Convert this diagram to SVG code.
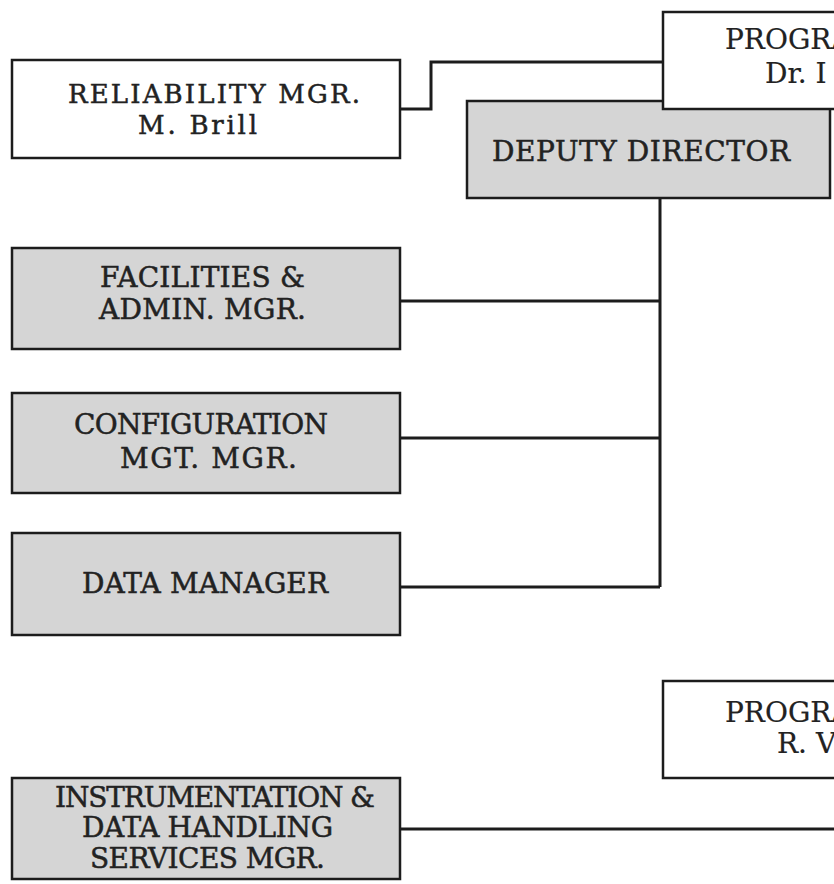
<svg xmlns="http://www.w3.org/2000/svg" width="834" height="884" viewBox="0 0 834 884">
<style>
  .white { fill: #ffffff; stroke: #1c1c1c; stroke-width: 2.5; }
  .gray { fill: #d5d5d5; stroke: #1c1c1c; stroke-width: 2.5; }
  .conn { fill: none; stroke: #1c1c1c; stroke-width: 3; stroke-linejoin: miter; }
  .lbl { font-family: "DejaVu Serif", "Liberation Serif", serif; font-size: 28px; fill: #222222; stroke: #222222; stroke-width: 0.5; }
  .sm { font-size: 26px; }
  .big { font-size: 28px; stroke-width: 0.2; }
</style>
<rect x="0" y="0" width="834" height="884" fill="#ffffff"/>

<g id="connectors">
  <path class="conn" d="M400,109 H431 V62 H663"/>
  <path class="conn" d="M660,198 V587"/>
  <path class="conn" d="M400,301 H660"/>
  <path class="conn" d="M400,438 H660"/>
  <path class="conn" d="M400,587 H660"/>
  <path class="conn" d="M400,829 H836"/>
</g>

<g id="reliability-mgr">
  <rect class="white" x="12" y="60" width="388" height="98"/>
  <text class="lbl sm" x="68" y="103" textLength="292" lengthAdjust="spacing">RELIABILITY MGR.</text>
  <text class="lbl sm" x="138" y="134" textLength="119" lengthAdjust="spacing">M. Brill</text>
</g>

<g id="deputy-director">
  <rect class="gray" x="467" y="101" width="363" height="97"/>
  <text class="lbl" x="492" y="161" textLength="298" lengthAdjust="spacing">DEPUTY DIRECTOR</text>
</g>

<g id="program-top">
  <rect class="white" x="663" y="12" width="200" height="97"/>
  <text class="lbl big" x="725" y="49">PROGRA</text>
  <text class="lbl big" x="765" y="83">Dr. I</text>
</g>

<g id="facilities-admin-mgr">
  <rect class="gray" x="12" y="248" width="388" height="101"/>
  <text class="lbl" x="100" y="287" textLength="205" lengthAdjust="spacing">FACILITIES &amp;</text>
  <text class="lbl" x="99" y="319" textLength="207" lengthAdjust="spacing">ADMIN. MGR.</text>
</g>

<g id="configuration-mgt-mgr">
  <rect class="gray" x="12" y="393" width="388" height="100"/>
  <text class="lbl" x="74" y="434" textLength="254" lengthAdjust="spacing">CONFIGURATION</text>
  <text class="lbl" x="120" y="468" textLength="177" lengthAdjust="spacing">MGT. MGR.</text>
</g>

<g id="data-manager">
  <rect class="gray" x="12" y="533" width="388" height="102"/>
  <text class="lbl" x="82" y="593" textLength="246" lengthAdjust="spacing">DATA MANAGER</text>
</g>

<g id="program-bottom">
  <rect class="white" x="663" y="681" width="200" height="97"/>
  <text class="lbl big" x="725" y="722">PROGRA</text>
  <text class="lbl big" x="777" y="753">R. V</text>
</g>

<g id="instrumentation-mgr">
  <rect class="gray" x="12" y="778" width="388" height="101"/>
  <text class="lbl" x="55" y="807" textLength="320" lengthAdjust="spacing">INSTRUMENTATION &amp;</text>
  <text class="lbl" x="82" y="837" textLength="251" lengthAdjust="spacing">DATA HANDLING</text>
  <text class="lbl" x="90" y="868" textLength="235" lengthAdjust="spacing">SERVICES MGR.</text>
</g>
</svg>
